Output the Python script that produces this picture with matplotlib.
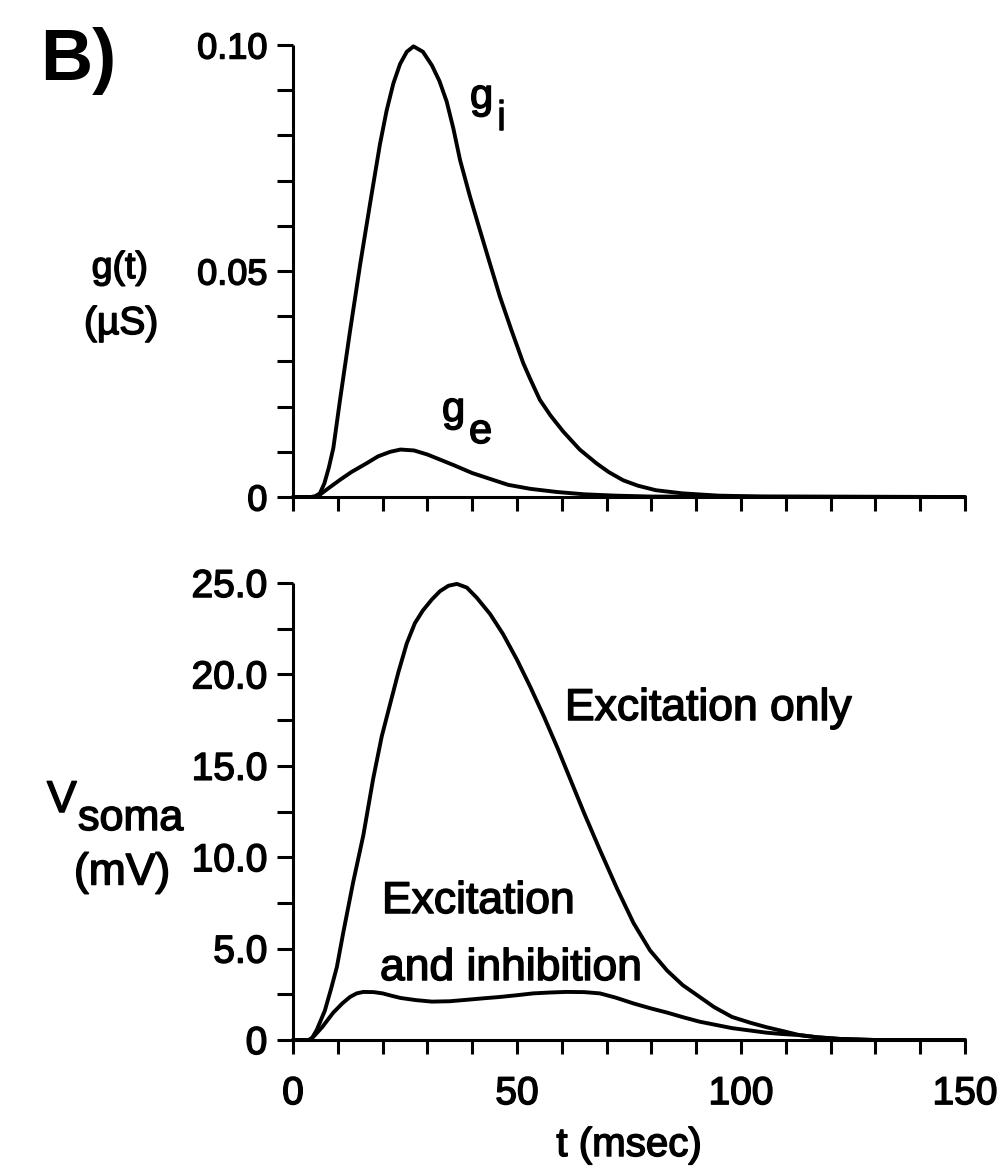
import matplotlib
matplotlib.use("Agg")
import matplotlib.pyplot as plt
import matplotlib.patheffects as pe
from matplotlib.ticker import MultipleLocator, FixedLocator

# ---------------- data ----------------
# top panel: conductances g(t) in microsiemens
t_gi = [0, 4, 5, 6, 7, 8, 9, 10.5, 12.7, 15, 17.3, 19.4, 20.9, 22.4, 23.9,
        25.4, 26.9, 29, 31, 32.7, 34.3, 35.8, 37.3, 39.5, 41.7, 44, 46.2,
        48.8, 51.4, 53, 55.1, 57.5, 60.3, 64, 67.8, 70.5, 73.7, 77, 81, 87,
        95, 105, 150]
g_i = [0, 0, 0.0002, 0.0008, 0.003, 0.0065, 0.0108, 0.0215, 0.0365, 0.0515,
       0.0655, 0.078, 0.0855, 0.0915, 0.0958, 0.0985, 0.0997, 0.0985, 0.0955,
       0.092, 0.0875, 0.0815, 0.0745, 0.0665, 0.0591, 0.0515, 0.0443, 0.0368,
       0.0296, 0.026, 0.0215, 0.018, 0.0145, 0.0105, 0.0074, 0.0055, 0.0037,
       0.0025, 0.0015, 0.0008, 0.0003, 0.0001, 0]

t_ge = [0, 5, 6, 8, 10.5, 13, 16.5, 19, 21.7, 24, 27, 30, 33, 36, 40, 44, 48,
        53, 59, 65, 72, 80, 150]
g_e = [0, 0, 0.0005, 0.002, 0.0038, 0.0055, 0.0075, 0.009, 0.010, 0.0105,
       0.0103, 0.0094, 0.0082, 0.007, 0.0053, 0.004, 0.0027, 0.0018, 0.0011,
       0.0006, 0.0003, 0.0001, 0]

# bottom panel: somatic potential in mV
t_ex = [0, 4, 5.3, 7.1, 8.5, 9.8, 11.2, 13.4, 15.7, 17.9, 19.8, 21.7, 23.5,
        25.4, 27.2, 29, 31, 32.8, 34.7, 36.6, 38.8, 41, 44, 46.9, 50, 53,
        56, 59, 62, 65, 68.5, 72.3, 76, 79.7, 83.5, 87, 90.8, 94, 98, 102,
        105.7, 110, 113, 117, 122, 130, 150]
v_ex = [0, 0, 0.55, 1.6, 2.8, 4.0, 5.85, 8.6, 11.2, 14.3, 16.6, 18.4, 20.1,
        21.7, 22.8, 23.5, 24.1, 24.55, 24.85, 24.95, 24.75, 24.2, 23.3, 22.2,
        20.8, 19.3, 17.7, 16.0, 14.2, 12.4, 10.4, 8.3, 6.4, 4.9, 3.8, 3.0,
        2.35, 1.8, 1.26, 0.95, 0.7, 0.45, 0.27, 0.15, 0.06, 0, 0]

t_ei = [0, 3.5, 4.5, 6.5, 9, 11, 12.7, 14.2, 15.7, 18, 20, 22, 24, 27.5, 31,
        35, 38.8, 42.5, 46, 50, 53.6, 57.5, 61, 65, 68.5, 72, 76, 80, 83.5,
        87, 90.8, 94.5, 98, 102, 105.7, 109, 113, 117, 122, 130, 150]
v_ei = [0, 0, 0.16, 0.7, 1.5, 2.0, 2.35, 2.55, 2.63, 2.62, 2.55, 2.42, 2.3,
        2.18, 2.1, 2.12, 2.2, 2.28, 2.35, 2.45, 2.55, 2.6, 2.63, 2.62, 2.55,
        2.32, 2.0, 1.72, 1.5, 1.25, 1.0, 0.82, 0.65, 0.52, 0.4, 0.33, 0.27,
        0.15, 0.06, 0, 0]

g_ticks = [0, 0.05, 0.10]
g_ticklabels = ["0", "0.05", "0.10"]
v_ticks = [0, 5, 10, 15, 20, 25]
v_ticklabels = ["0", "5.0", "10.0", "15.0", "20.0", "25.0"]
t_ticks = [0, 50, 100, 150]
t_ticklabels = ["0", "50", "100", "150"]

# ---------------- figure ----------------
plt.rcParams['font.family'] = ['Liberation Sans', 'DejaVu Sans']
W, H = 1006, 1171
fig = plt.figure(figsize=(W / 100, H / 100), dpi=100)
fig.patch.set_facecolor('white')

HEAVY = [pe.withStroke(linewidth=1.1, foreground='black')]


def fx(x):
    return x / W


def fy(y):
    return 1 - y / H


ax1 = fig.add_axes([fx(293), fy(497), (965 - 293) / W, (497 - 45) / H])
ax2 = fig.add_axes([fx(293), fy(1040), (965 - 293) / W, (1040 - 583) / H])

LW_SP = 2.2
for ax in (ax1, ax2):
    ax.set_facecolor('none')
    for s in ('top', 'right'):
        ax.spines[s].set_visible(False)
    for s in ('left', 'bottom'):
        ax.spines[s].set_linewidth(LW_SP)
        ax.spines[s].set_capstyle('butt')
    ax.set_xlim(0, 150)
    ax.xaxis.set_minor_locator(MultipleLocator(10))
    ax.tick_params(axis='x', which='both', direction='out', length=10,
                   width=LW_SP, color='black')
    ax.tick_params(axis='y', which='both', direction='out', length=11.5,
                   width=LW_SP, color='black', pad=7)

# top panel
ax1.set_ylim(0, 0.10)
ax1.xaxis.set_major_locator(MultipleLocator(10))
ax1.tick_params(axis='x', labelbottom=False)
ax1.yaxis.set_major_locator(FixedLocator(g_ticks))
ax1.yaxis.set_minor_locator(MultipleLocator(0.01))
ax1.set_yticklabels(g_ticklabels, fontsize=26)
ax1.plot(t_gi, g_i, color='black', lw=2.8, clip_on=False,
         solid_joinstyle='round', solid_capstyle='round')
ax1.plot(t_ge, g_e, color='black', lw=2.8, clip_on=False,
         solid_joinstyle='round', solid_capstyle='round')

# bottom panel
ax2.set_ylim(0, 25)
ax2.xaxis.set_major_locator(FixedLocator(t_ticks))
ax2.set_xticklabels(t_ticklabels, fontsize=28)
ax2.tick_params(axis='x', which='major', pad=16)
ax2.yaxis.set_major_locator(FixedLocator(v_ticks))
ax2.yaxis.set_minor_locator(MultipleLocator(2.5))
ax2.set_yticklabels(v_ticklabels, fontsize=28)
ax2.plot(t_ex, v_ex, color='black', lw=2.8, clip_on=False,
         solid_joinstyle='round', solid_capstyle='round')
ax2.plot(t_ei, v_ei, color='black', lw=2.8, clip_on=False,
         solid_joinstyle='round', solid_capstyle='round')

for ax in (ax1, ax2):
    for lab in ax.get_xticklabels() + ax.get_yticklabels():
        lab.set_path_effects(HEAVY)

# ---------------- text ----------------
fig.text(fx(40), fy(80), "B)", fontsize=52, fontweight='bold',
         ha='left', va='baseline')


def label(x, y, s, size, **kw):
    kw.setdefault('ha', 'left')
    kw.setdefault('va', 'baseline')
    fig.text(fx(x), fy(y), s, fontsize=size, path_effects=HEAVY, **kw)


label(120, 268, "g(t)", 27, ha='center', va='center')
label(121, 324, "(\u00b5S)", 28, ha='center', va='center')

label(47, 812, "V", 32)
label(78, 830, "soma", 31)
label(122, 873, "(mV)", 32, ha='center', va='center')

label(629, 1145, "t (msec)", 29, ha='center', va='center')

# curve labels
label(470, 108, "g", 30)
label(497, 130, "i", 30)
label(442, 421, "g", 30)
label(469, 443, "e", 30)

label(565, 720, "Excitation only", 32)
label(382, 913, "Excitation", 32)
label(380, 980, "and inhibition", 32)

fig.savefig("out.png", dpi=100, facecolor='white')
